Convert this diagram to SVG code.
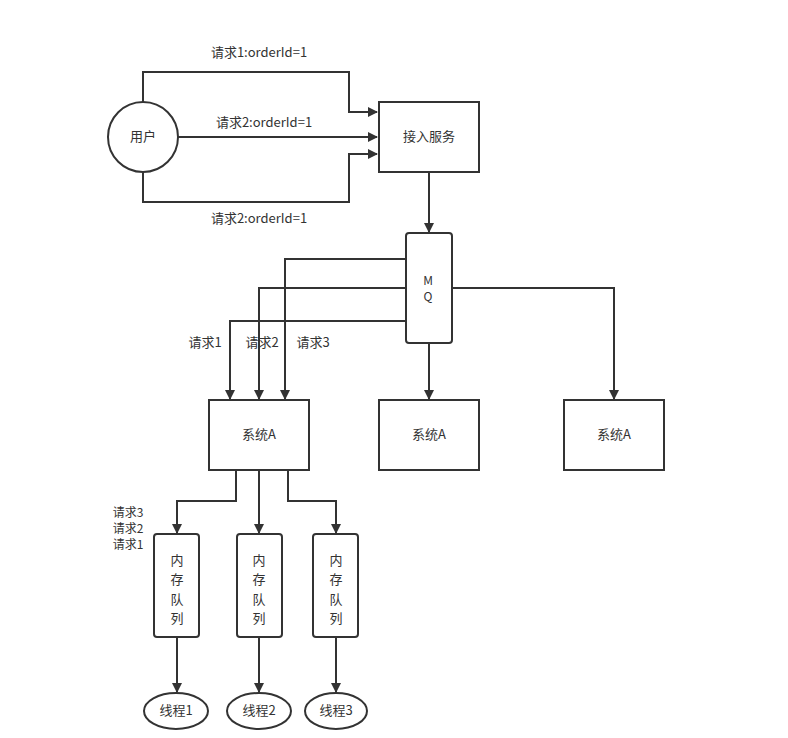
<svg xmlns="http://www.w3.org/2000/svg" width="788" height="738" viewBox="0 0 788 738">
<style>
.n{fill:#fff;stroke:#333;stroke-width:2}
.c{fill:none;stroke:#333;stroke-width:2}
text{font-family:"Noto Sans CJK SC","Liberation Sans",sans-serif;font-size:13px;fill:#333;text-anchor:middle}
.s{font-size:12px}
</style>
<defs>
<marker id="a" markerWidth="10" markerHeight="10" refX="9" refY="5" orient="auto" markerUnits="userSpaceOnUse">
<path d="M0,0 L10,5 L0,10 Z" fill="#333"/>
</marker>
</defs>
<rect width="788" height="738" fill="#fff"/>
<g id="connectors">
<path class="c" d="M143,102 V72 H349 V112 H377" marker-end="url(#a)"/>
<path class="c" d="M178,137 H377" marker-end="url(#a)"/>
<path class="c" d="M143,172 V202 H349 V154 H377" marker-end="url(#a)"/>
<path class="c" d="M429,172 V232" marker-end="url(#a)"/>
<path class="c" d="M406,259 H285 V399" marker-end="url(#a)"/>
<path class="c" d="M406,288 H259 V399" marker-end="url(#a)"/>
<path class="c" d="M406,321 H230 V399" marker-end="url(#a)"/>
<path class="c" d="M452,288 H614 V399" marker-end="url(#a)"/>
<path class="c" d="M429,343 V399" marker-end="url(#a)"/>
<path class="c" d="M236,470 V501 H177 V533" marker-end="url(#a)"/>
<path class="c" d="M259,470 V533" marker-end="url(#a)"/>
<path class="c" d="M288,470 V501 H336 V533" marker-end="url(#a)"/>
<path class="c" d="M177,637 V692" marker-end="url(#a)"/>
<path class="c" d="M259,637 V692" marker-end="url(#a)"/>
<path class="c" d="M336,637 V692" marker-end="url(#a)"/>
<text x="259" y="57">请求1:orderId=1</text>
<text x="264" y="127">请求2:orderId=1</text>
<text x="259" y="223">请求2:orderId=1</text>
<text x="205" y="347">请求1</text>
<text x="262" y="347">请求2</text>
<text x="313" y="347">请求3</text>
<text class="s" x="128" y="517">请求3</text>
<text class="s" x="128" y="533">请求2</text>
<text class="s" x="128" y="549">请求1</text>
</g>
<g id="user"><circle class="n" cx="143" cy="137" r="35"/><text x="143" y="141">用户</text></g>
<g id="access"><rect class="n" x="379" y="102" width="100" height="70"/><text x="429" y="141">接入服务</text></g>
<g id="mq"><rect class="n" x="406" y="233" width="46" height="110" rx="3"/><text class="s" x="428" y="285">M</text><text class="s" x="428" y="301">Q</text></g>
<g id="sysA1"><rect class="n" x="209" y="400" width="100" height="70"/><text x="259" y="439">系统A</text></g>
<g id="sysA2"><rect class="n" x="379" y="400" width="100" height="70"/><text x="429" y="439">系统A</text></g>
<g id="sysA3"><rect class="n" x="564" y="400" width="100" height="70"/><text x="614" y="439">系统A</text></g>
<g id="q1"><rect class="n" x="154" y="534" width="45" height="103" rx="3"/><text x="177" y="565">内</text><text x="177" y="584">存</text><text x="177" y="604">队</text><text x="177" y="623">列</text></g>
<g id="q2"><rect class="n" x="237" y="534" width="45" height="103" rx="3"/><text x="259" y="565">内</text><text x="259" y="584">存</text><text x="259" y="604">队</text><text x="259" y="623">列</text></g>
<g id="q3"><rect class="n" x="313" y="534" width="45" height="103" rx="3"/><text x="336" y="565">内</text><text x="336" y="584">存</text><text x="336" y="604">队</text><text x="336" y="623">列</text></g>
<g id="t1"><ellipse class="n" cx="176" cy="711" rx="32" ry="18"/><text x="176" y="715">线程1</text></g>
<g id="t2"><ellipse class="n" cx="259" cy="711" rx="32" ry="18"/><text x="259" y="715">线程2</text></g>
<g id="t3"><ellipse class="n" cx="336" cy="711" rx="31" ry="18"/><text x="336" y="715">线程3</text></g>
</svg>
